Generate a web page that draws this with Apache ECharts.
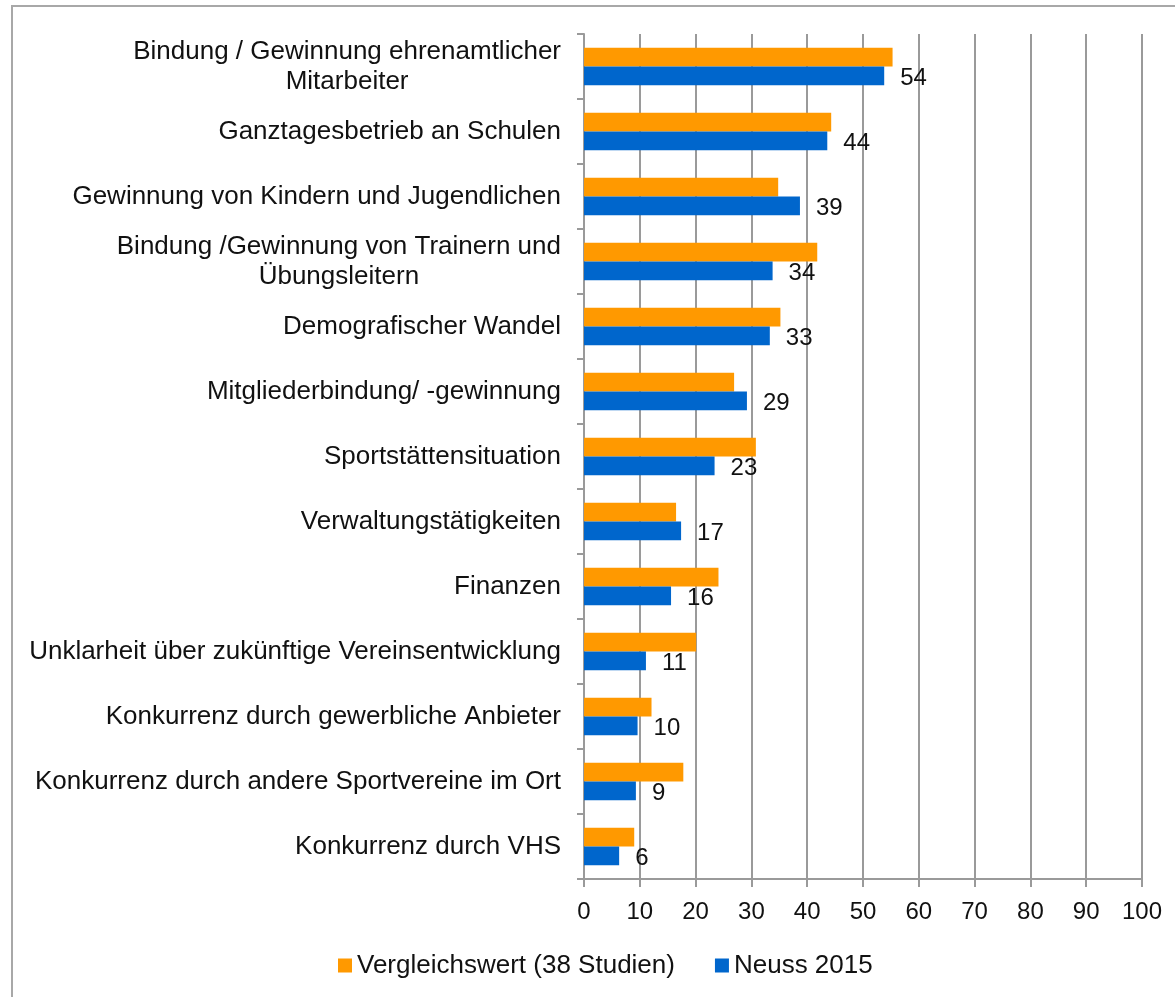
<!DOCTYPE html>
<html>
<head>
<meta charset="utf-8">
<script src="https://cdn.jsdelivr.net/npm/echarts@6/dist/echarts.min.js"></script>
<style>
html,body{margin:0;padding:0;background:#fff;}
#chart{width:1175px;height:997px;}
</style>
</head>
<body>
<div id="chart"></div>
<script>
const categories = [
  'Bindung / Gewinnung ehrenamtlicher\nMitarbeiter',
  'Ganztagesbetrieb an Schulen',
  'Gewinnung von Kindern und Jugendlichen',
  'Bindung /Gewinnung von Trainern und\nÜbungsleitern',
  'Demografischer Wandel',
  'Mitgliederbindung/ -gewinnung',
  'Sportstättensituation',
  'Verwaltungstätigkeiten',
  'Finanzen',
  'Unklarheit über zukünftige Vereinsentwicklung',
  'Konkurrenz durch gewerbliche Anbieter',
  'Konkurrenz durch andere Sportvereine im Ort',
  'Konkurrenz durch VHS'
];
const seriesNames = ['Vergleichswert (38 Studien)', 'Neuss 2015'];
const vergleichswert = [55.3, 44.3, 34.8, 41.8, 35.2, 26.9, 30.8, 16.5, 24.1, 20.1, 12.1, 17.8, 9.0];
const neuss2015 = [53.8, 43.6, 38.7, 33.8, 33.3, 29.2, 23.4, 17.4, 15.6, 11.1, 9.6, 9.3, 6.3];
const xTicks = { min: 0, max: 100, interval: 10 };

const FONT = 'Liberation Sans, Arial, sans-serif';
const chart = echarts.init(document.getElementById('chart'), null, { renderer: 'canvas' });
chart.setOption({
  animation: false,
  backgroundColor: '#ffffff',
  graphic: [{
    type: 'rect', silent: true, z: -10,
    shape: { x: 12, y: 6, width: 1300, height: 1200 },
    style: { fill: 'none', stroke: '#a8a8a8', lineWidth: 2 }
  }],
  grid: { left: 584, right: 33, top: 34, bottom: 118, containLabel: false },
  legend: {
    data: seriesNames,
    left: 338, top: 952,
    padding: 0,
    itemWidth: 14, itemHeight: 14, itemGap: 40,
    icon: 'rect',
    textStyle: { fontSize: 26, fontFamily: FONT, color: '#111', lineHeight: 27 }
  },
  xAxis: {
    type: 'value',
    min: xTicks.min, max: xTicks.max, interval: xTicks.interval,
    axisLine: { show: true, lineStyle: { color: '#9a9a9a', width: 2 } },
    axisTick: { show: true, length: 8, lineStyle: { color: '#9a9a9a', width: 2 } },
    axisLabel: { fontSize: 24, fontFamily: FONT, color: '#111', margin: 21 },
    splitLine: { show: true, lineStyle: { color: '#9a9a9a', width: 2 } }
  },
  yAxis: {
    type: 'category',
    data: categories,
    inverse: true,
    axisLine: { show: true, lineStyle: { color: '#9a9a9a', width: 2 } },
    axisTick: { show: true, length: 7, lineStyle: { color: '#9a9a9a', width: 2 } },
    axisLabel: {
      margin: 23,
      align: 'right',
      formatter: function (v) { return v.split('\n').map(function (l) { return '{c|' + l + '}'; }).join('\n'); },
      rich: { c: { align: 'center', fontSize: 26, lineHeight: 30, fontFamily: FONT, color: '#111' } }
    },
    splitLine: { show: false }
  },
  series: [
    {
      name: seriesNames[0], type: 'bar', data: vergleichswert,
      itemStyle: { color: '#ff9900' },
      barGap: '0%', barCategoryGap: '42%'
    },
    {
      name: seriesNames[1], type: 'bar', data: neuss2015,
      itemStyle: { color: '#0066cc' },
      barGap: '0%', barCategoryGap: '42%',
      label: {
        show: true, position: 'right', distance: 16, offset: [0, 2],
        fontSize: 24, fontFamily: FONT, color: '#111',
        formatter: function (p) { return Math.round(p.value); }
      },
      z: 3
    }
  ]
});
</script>
</body>
</html>
